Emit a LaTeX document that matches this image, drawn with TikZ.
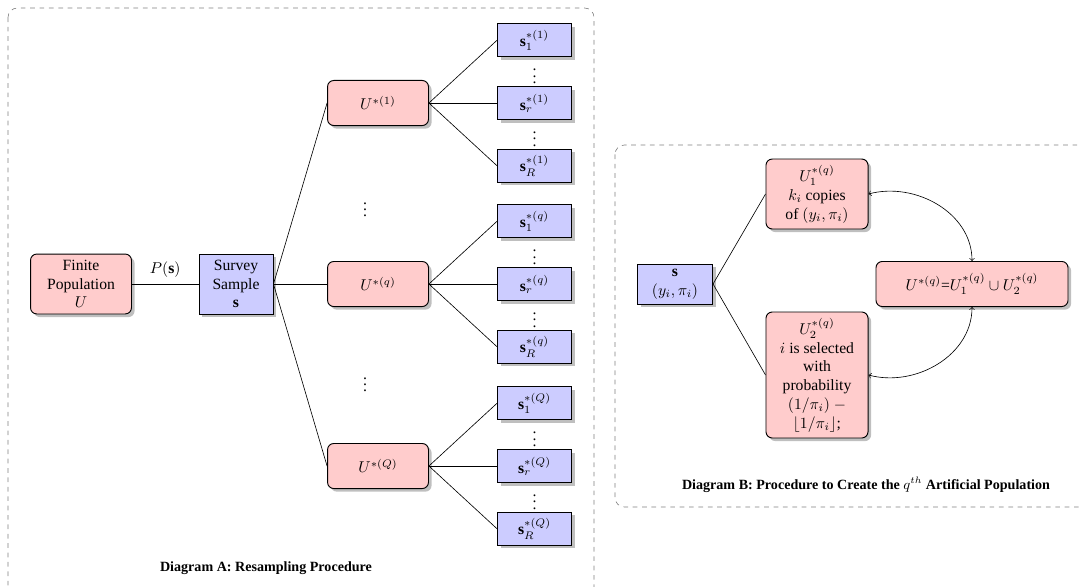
\documentclass[tikz,border=0pt]{standalone}
\usepackage{fontspec}
\setmainfont{Liberation Serif}
\usetikzlibrary{arrows,positioning,shadows}

\begin{document}
\begin{tikzpicture}[
        x=0.639pt,
        y=-0.639pt,
        pop node/.style={
            rectangle,
            rounded corners=4pt,
            draw,
            semithick,
            fill=red!20,
            drop shadow={shadow xshift=2pt, shadow yshift=-2pt},
            align=center,
            inner sep=2pt
        },
        sample node/.style={
            rectangle,
            draw,
            semithick,
            fill=blue!20,
            drop shadow={shadow xshift=2pt, shadow yshift=-2pt},
            align=center,
            inner sep=2pt,
            minimum width=47.3pt,
            minimum height=21pt
        },
        dots node/.style={
            inner sep=0pt
        },
        frame/.style={
            draw=gray,
            dashed,
            rounded corners=6pt
        },
        node distance=18.5pt and 43.5pt
    ]
    \useasboundingbox (0,0) rectangle (1079,586);
    % frames
    \draw[frame] (8,8) rectangle (594,620);
    \draw[frame] (615,145) rectangle (1110,507);

    % Diagram A
    \node[pop node, minimum width=64.5pt, minimum height=38.3pt] (pop) at (81,284) {Finite\\Population\\$U$};
    \node[sample node, minimum height=38.3pt] (survey) at (236,284) {Survey\\Sample\\$\mathbf{s}$};
    \draw (pop) -- node[above, yshift=1pt] {$P(\mathbf{s})$} (survey);

    \foreach \q/\lab/\y in {1/1/103, 2/q/284, 3/Q/466} {
        \node[pop node, minimum width=64.5pt, minimum height=28.8pt] (u\q) at (378,\y) {$U^{*(\lab)}$};
        \node[sample node, right=of u\q] (s\q r) {$\mathbf{s}_r^{*(\lab)}$};
        \node[sample node, above=of s\q r] (s\q one) {$\mathbf{s}_1^{*(\lab)}$};
        \node[sample node, below=of s\q r] (s\q R) {$\mathbf{s}_R^{*(\lab)}$};
        \path (s\q one) -- node[dots node] {$\vdots$} (s\q r);
        \path (s\q r) -- node[dots node] {$\vdots$} (s\q R);
        \draw (survey.east) -- (u\q.west);
        \draw (u\q.east) -- (s\q one.west);
        \draw (u\q.east) -- (s\q r.west);
        \draw (u\q.east) -- (s\q R.west);
    }
    \node[dots node] (dotsa) at (365,205) {$\vdots$};
    \node[dots node] (dotsb) at (365,380) {$\vdots$};
    \node[font=\small\bfseries] (titleA) at (266,568) {Diagram A: Resampling Procedure};

    % Diagram B
    \node[sample node, minimum width=48pt, minimum height=25.6pt] (bs) at (675,284) {$\mathbf{s}$\\$(y_i,\pi_i)$};
    \node[pop node, minimum width=65.2pt, minimum height=44.7pt] (bu1) at (817,194) {$U_1^{*(q)}$\\$k_i$ copies\\of $(y_i,\pi_i)$};
    \node[pop node, minimum width=65.2pt, minimum height=80.5pt] (bu2) at (817,375) {$U_2^{*(q)}$\\$i$ is selected\\with\\probability\\$(1/\pi_i)$ $-$\\$\lfloor 1/\pi_i\rfloor$;};
    \node[pop node, minimum width=122.7pt, minimum height=28.8pt] (bu) at (972,284) {$U^{*(q)}$=$U_1^{*(q)}\cup U_2^{*(q)}$};
    \draw (bs.east) -- (bu1.west);
    \draw (bs.east) -- (bu2.west);
    \draw[<->] (bu1.east) to[out=15, in=90] (bu.north);
    \draw[<->] (bu2.east) to[out=-15, in=-90] (bu.south);
    \node[font=\small\bfseries] (titleB) at (866,485) {Diagram B: Procedure to Create the $q^{th}$ Artificial Population};
\end{tikzpicture}
\end{document}
